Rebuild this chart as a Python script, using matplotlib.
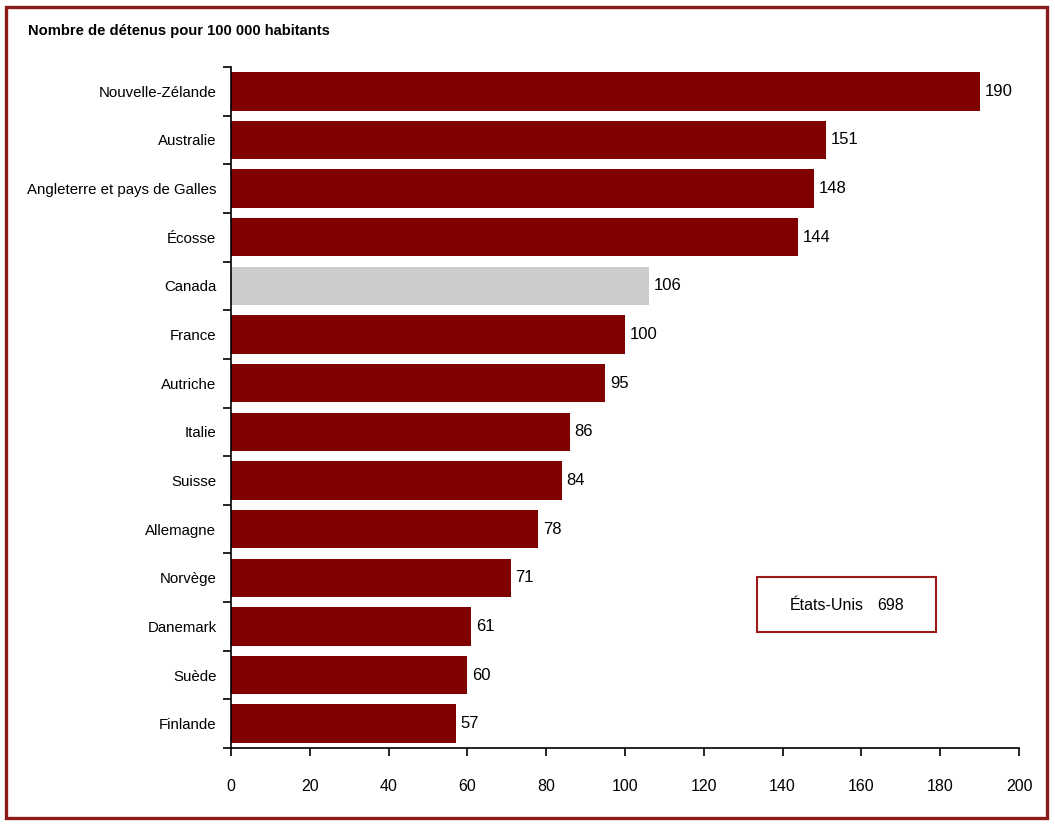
import matplotlib
matplotlib.use("Agg")
import matplotlib.pyplot as plt
from matplotlib.patches import Rectangle

countries = ["Nouvelle-Zélande", "Australie", "Angleterre et pays de Galles", "Écosse",
             "Canada", "France", "Autriche", "Italie", "Suisse", "Allemagne",
             "Norvège", "Danemark", "Suède", "Finlande"]
values = [190, 151, 148, 144, 106, 100, 95, 86, 84, 78, 71, 61, 60, 57]
highlight = "Canada"
xticks = [0, 20, 40, 60, 80, 100, 120, 140, 160, 180, 200]
title = "Nombre de détenus pour 100 000 habitants"
us_label = "États-Unis"
us_value = 698

plt.rcParams['font.family'] = ['Liberation Sans', 'DejaVu Sans']

W, H = 1055, 825
fig = plt.figure(figsize=(W/100, H/100), dpi=100)
ax = fig.add_axes([231/W, 1-748/H, (1019-231)/W, (748-67)/H])

n = len(countries)
ypos = list(range(n))
colors = ["#CCCCCC" if c == highlight else "#800000" for c in countries]
ax.barh(ypos, values, height=0.79, color=colors, edgecolor="none")
ax.set_ylim(n-0.5, -0.5)
ax.set_xlim(0, 200)
ax.set_xticks(xticks)
ax.set_xticklabels([str(t) for t in xticks], fontsize=11.5)
ax.set_yticks(ypos)
ax.set_yticklabels(countries, fontsize=10.8)
ax.set_yticks([i-0.5 for i in range(n+1)], minor=True)
ax.tick_params(axis='y', which='major', length=0, pad=10.5)
ax.tick_params(axis='y', which='minor', length=6, width=1.2, direction='out')
ax.tick_params(axis='x', length=6, width=1.2, direction='out', pad=16)
for s in ["top", "right"]:
    ax.spines[s].set_visible(False)
for s in ["left", "bottom"]:
    ax.spines[s].set_linewidth(1.2)

for y, v in zip(ypos, values):
    ax.text(v + 1.2, y, str(v), va='center', ha='left', fontsize=12)

fig.text(28/W, 1-31/H, title, fontsize=10.6, fontweight='bold',
         va='center', ha='left')

# US box
fig.patches.append(Rectangle((757/W, 1-632/H), (936-757)/W, (632-577)/H,
                             transform=fig.transFigure, fill=False,
                             edgecolor="#9B1B1B", linewidth=1.5))
fig.text(790/W, 1-605/H, us_label, fontsize=11.5, ha='left', va='center')
fig.text(877/W, 1-605/H, str(us_value), fontsize=11.5, ha='left', va='center')

# outer frame
fig.patches.append(Rectangle((6/W, 1-818/H), (1047-6)/W, (818-7)/H,
                             transform=fig.transFigure, fill=False,
                             edgecolor="#8B1A1A", linewidth=2.4))

fig.savefig("out.png", dpi=100)
